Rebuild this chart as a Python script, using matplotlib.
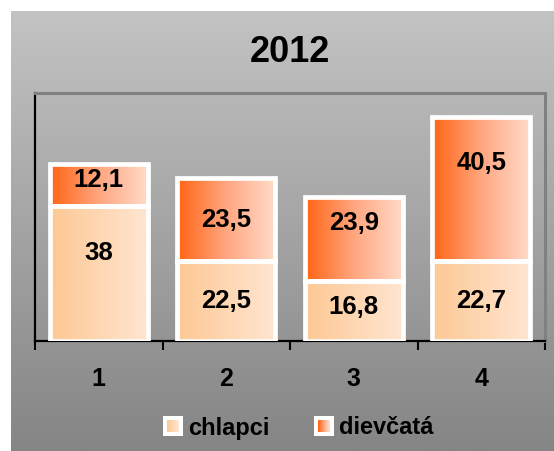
import numpy as np
import matplotlib
matplotlib.use("Agg")
import matplotlib.pyplot as plt
from matplotlib.colors import LinearSegmentedColormap
from matplotlib.patches import Rectangle
from matplotlib.legend_handler import HandlerBase

# DATA
categories = ["1", "2", "3", "4"]
chlapci = [38, 22.5, 16.8, 22.7]
dievcata = [12.1, 23.5, 23.9, 40.5]
series_names = ["chlapci", "dievčatá"]
title = "2012"

# label nudges (px, upward) as in the original layout
nudge_chlapci = [21, 0, 4, 0]
nudge_dievcata = [5, 0, 16, 26]

FONT = ["Liberation Sans", "DejaVu Sans"]
plt.rcParams["font.family"] = FONT
plt.rcParams["font.weight"] = "bold"

cmap_ch = LinearSegmentedColormap.from_list("ch", ["#fdc894", "#ffe6d2"])
cmap_di = LinearSegmentedColormap.from_list("di", ["#ff6414", "#ffa781", "#ffdcca"])

W, H = 554, 451
fig = plt.figure(figsize=(W / 100, H / 100), dpi=100)
fig.patch.set_facecolor("white")

# gray gradient panel behind the chart
bg = fig.add_axes([11 / W, 0, 1 - 11 / W, 440 / H], zorder=-5)
grad = np.linspace(0, 1, 256).reshape(-1, 1)
bg.imshow(grad, aspect="auto", cmap=LinearSegmentedColormap.from_list("bg", ["#c3c3c3", "#858585"]),
          extent=[0, 1, 0, 1], origin="upper")
bg.axis("off")

ax = fig.add_axes([35 / W, (H - 341) / H, (545 - 35) / W, 248 / H])
ax.set_facecolor("none")

x = np.arange(len(categories))
width = 0.77
hgrad = np.linspace(0, 1, 256).reshape(1, -1)


def grad_bars(xs, heights, bottoms, cmap):
    bars = ax.bar(xs, heights, width, bottom=bottoms, facecolor="none",
                  edgecolor="white", linewidth=3.4, zorder=3)
    for b in bars:
        x0, y0 = b.get_x(), b.get_y()
        im = ax.imshow(hgrad, cmap=cmap, aspect="auto", zorder=2,
                       extent=[x0, x0 + b.get_width(), y0, y0 + b.get_height()])
        im.set_clip_path(Rectangle((x0, y0), b.get_width(), b.get_height(), transform=ax.transData))
    return bars


def fmt(v):
    return str(int(v)) if float(v).is_integer() else str(v).replace(".", ",")


bars_ch = grad_bars(x, chlapci, 0, cmap_ch)
bars_di = grad_bars(x, dievcata, chlapci, cmap_di)

for bars, vals, nud in [(bars_ch, chlapci, nudge_chlapci), (bars_di, dievcata, nudge_dievcata)]:
    for b, v, n in zip(bars, vals, nud):
        ax.annotate(fmt(v), (b.get_x() + b.get_width() / 2, b.get_y() + b.get_height() / 2),
                    xytext=(0, n * 0.72), textcoords="offset points",
                    ha="center", va="center", fontsize=18.5, fontweight="bold", zorder=5)

ax.set_xlim(-0.5, len(categories) - 0.5)
ax.set_ylim(0, 70)
ax.set_yticks([])

ax.set_xticks(np.arange(len(categories) + 1) - 0.5)
ax.set_xticklabels([])
ax.tick_params(axis="x", which="major", length=6.5, width=1.5, color="black", direction="out")
ax.set_xticks(x, minor=True)
ax.set_xticklabels(categories, minor=True, fontsize=18, fontweight="bold")
ax.tick_params(axis="x", which="minor", length=0, pad=19)

for s in ["left", "bottom"]:
    ax.spines[s].set_linewidth(1.6)
    ax.spines[s].set_color("black")
for s in ["top", "right"]:
    ax.spines[s].set_linewidth(2.2)
    ax.spines[s].set_color("#808080")

fig.text(290 / W, 1 - 52 / H, title, ha="center", va="center", fontsize=26, fontweight="bold")


# legend with gradient squares
class GradHandler(HandlerBase):
    def __init__(self, cmap):
        super().__init__()
        self.cmap = cmap

    def create_artists(self, legend, orig_handle, xdescent, ydescent, width, height, fontsize, trans):
        s = min(width, height * 1.25)
        x0 = -xdescent + (width - s) / 2
        y0 = -ydescent + (height - s) / 2
        arts = [Rectangle((x0, y0), s, s, facecolor="white", edgecolor="none", transform=trans)]
        m = s * 0.2
        n = 12
        step = (s - 2 * m) / n
        for i in range(n):
            arts.append(Rectangle((x0 + m + i * step, y0 + m), step * 1.05, s - 2 * m,
                                  facecolor=self.cmap(i / (n - 1)), edgecolor="none", transform=trans))
        return arts


h_ch = Rectangle((0, 0), 1, 1)
h_di = Rectangle((0, 0), 1, 1)
fig.legend([h_ch, h_di], series_names, loc="center", bbox_to_anchor=(298 / W, 23 / H),
           ncol=2, frameon=False, handlelength=0.85, handleheight=0.85, handletextpad=0.2,
           columnspacing=1.9, prop={"size": 17, "weight": "bold"},
           handler_map={h_ch: GradHandler(cmap_ch), h_di: GradHandler(cmap_di)})

fig.savefig("out.png", dpi=100, facecolor="white")
